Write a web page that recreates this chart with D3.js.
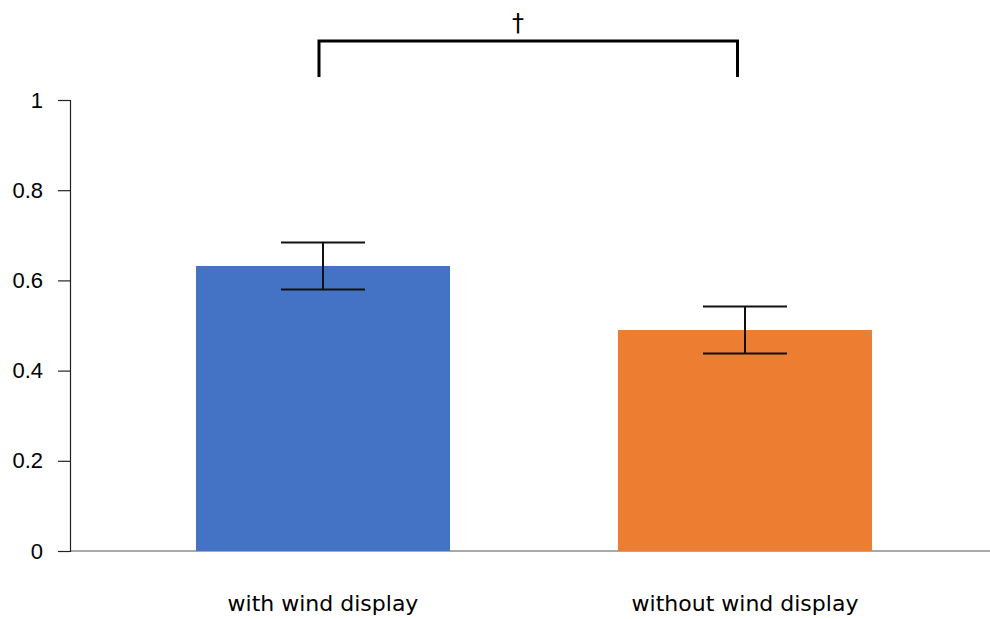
<!DOCTYPE html>
<html>
<head>
<meta charset="utf-8">
<script src="https://cdn.jsdelivr.net/npm/d3@7"></script>
<style>
  body { margin: 0; background: #fff; }
  svg { display: block; font-family: "Open Sans", "Noto Sans", sans-serif; }
</style>
</head>
<body>
<script>
// chart data
const categories = ['with wind display', 'without wind display'];
const means = [0.632, 0.490];
const errors = [0.052, 0.052];
const barColors = ['#4472c4', '#ed7d31'];
const yTicks = [0, 0.2, 0.4, 0.6, 0.8, 1];
const sigLabel = '†';

const width = 990, height = 619;

const svg = d3.select('body').append('svg')
  .attr('width', width)
  .attr('height', height);

// scales (step 422, bar width ~254 like the original Excel gap width)
const x = d3.scaleBand()
  .domain(categories)
  .range([112, 956])
  .paddingInner(0.398)
  .paddingOuter(0.199);

const y = d3.scaleLinear()
  .domain([0, 1])
  .range([551, 100]);

// x axis baseline (gray, runs to the right edge)
svg.append('line')
  .attr('x1', 70).attr('x2', width)
  .attr('y1', y(0)).attr('y2', y(0))
  .attr('stroke', '#8c8c8c')
  .attr('stroke-width', 1.5);

// bars
svg.selectAll('rect.bar')
  .data(categories)
  .enter()
  .append('rect')
  .attr('class', 'bar')
  .attr('x', d => x(d))
  .attr('width', x.bandwidth())
  .attr('y', (d, i) => y(means[i]))
  .attr('height', (d, i) => y(0) - y(means[i]))
  .attr('fill', (d, i) => barColors[i]);

// y axis
const yAxis = svg.append('g')
  .attr('transform', 'translate(70,0)')
  .call(d3.axisLeft(y).tickValues(yTicks).tickSize(12).tickPadding(15)
    .tickFormat(d => d3.format('~g')(d)));
yAxis.select('.domain').attr('stroke', '#222').attr('stroke-width', 1.2);
yAxis.selectAll('.tick line').attr('stroke', '#222').attr('stroke-width', 1.2);
yAxis.selectAll('.tick text')
  .attr('fill', '#000')
  .style('font-size', '22px');

// error bars
const capHalf = 42;
const eb = svg.selectAll('g.err')
  .data(categories)
  .enter()
  .append('g')
  .attr('class', 'err')
  .attr('stroke', '#111')
  .attr('stroke-width', 2);
eb.append('line')
  .attr('x1', d => x(d) + x.bandwidth() / 2)
  .attr('x2', d => x(d) + x.bandwidth() / 2)
  .attr('y1', (d, i) => y(means[i] + errors[i]))
  .attr('y2', (d, i) => y(means[i] - errors[i]));
eb.append('line')
  .attr('x1', d => x(d) + x.bandwidth() / 2 - capHalf)
  .attr('x2', d => x(d) + x.bandwidth() / 2 + capHalf)
  .attr('y1', (d, i) => y(means[i] + errors[i]))
  .attr('y2', (d, i) => y(means[i] + errors[i]));
eb.append('line')
  .attr('x1', d => x(d) + x.bandwidth() / 2 - capHalf)
  .attr('x2', d => x(d) + x.bandwidth() / 2 + capHalf)
  .attr('y1', (d, i) => y(means[i] - errors[i]))
  .attr('y2', (d, i) => y(means[i] - errors[i]));

// category labels
svg.selectAll('text.cat')
  .data(categories)
  .enter()
  .append('text')
  .attr('class', 'cat')
  .attr('x', d => x(d) + x.bandwidth() / 2)
  .attr('y', 611)
  .attr('text-anchor', 'middle')
  .style('font-family', '"DejaVu Sans", sans-serif')
  .style('font-size', '22px')
  .attr('fill', '#000')
  .text(d => d);

// significance bracket
const bx1 = 319, bx2 = 737.5, byTop = 41, byBottom = 77;
svg.append('path')
  .attr('d', `M${bx1},${byBottom}V${byTop}H${bx2}V${byBottom}`)
  .attr('fill', 'none')
  .attr('stroke', '#000')
  .attr('stroke-width', 3);
svg.append('text')
  .attr('x', 518)
  .attr('y', 31)
  .attr('text-anchor', 'middle')
  .style('font-family', '"DejaVu Sans", sans-serif')
  .style('font-size', '24px')
  .attr('fill', '#000')
  .text(sigLabel);
</script>
</body>
</html>
